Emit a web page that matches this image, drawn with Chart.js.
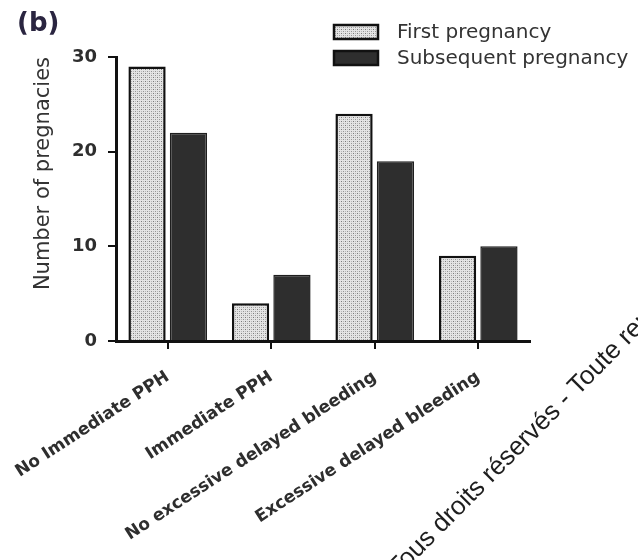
<!DOCTYPE html>
<html>
<head>
<meta charset="utf-8">
<script src="https://cdn.jsdelivr.net/npm/chart.js@4.4.1/dist/chart.umd.min.js"></script>
<style>
  html, body { margin: 0; padding: 0; background: #ffffff; }
  #wrap { width: 638px; height: 560px; }
</style>
</head>
<body>
<div id="wrap"><canvas id="c" width="638" height="560"></canvas></div>
<script>
const categories = ["No Immediate PPH", "Immediate PPH", "No excessive delayed bleeding", "Excessive delayed bleeding"];
const firstPregnancy = [29, 4, 24, 9];
const subsequentPregnancy = [22, 7, 19, 10];
const seriesNames = ["First pregnancy", "Subsequent pregnancy"];
const yTicks = [0, 10, 20, 30];
const yTitle = "Number of pregnacies";
const panelLabel = "(b)";
const watermark = "Tous droits réservés - Toute reproduction interdite";

function makeDotPattern() {
  const t = document.createElement('canvas');
  t.width = 4; t.height = 4;
  const g = t.getContext('2d');
  g.fillStyle = '#e4e4e4';
  g.fillRect(0, 0, 4, 4);
  g.fillStyle = '#7a7a7a';
  g.fillRect(1, 1, 1, 1);
  g.fillStyle = '#959595';
  g.fillRect(3, 3, 1, 1);
  g.fillStyle = '#b8b8b8';
  g.fillRect(1, 3, 1, 1);
  g.fillRect(3, 1, 1, 1);
  return document.getElementById('c').getContext('2d').createPattern(t, 'repeat');
}
const dotPattern = makeDotPattern();

const extrasPlugin = {
  id: 'extras',
  afterDraw(chart) {
    const ctx = chart.ctx;
    ctx.save();
    // panel label
    ctx.fillStyle = '#2a2540';
    ctx.font = 'bold 26px "DejaVu Sans"';
    ctx.textBaseline = 'middle';
    ctx.textAlign = 'left';
    ctx.fillText(panelLabel, 17, 24);
    // legend
    const ds = chart.data.datasets;
    const rows = [32, 58];
    ds.forEach((d, i) => {
      const y = rows[i];
      ctx.fillStyle = d.backgroundColor;
      ctx.fillRect(334, y - 7, 44, 14);
      ctx.lineWidth = 2.5;
      ctx.strokeStyle = '#111111';
      ctx.strokeRect(334, y - 7, 44, 14);
      ctx.fillStyle = '#333333';
      ctx.font = '20px "DejaVu Sans"';
      ctx.textBaseline = 'middle';
      ctx.fillText(d.label, 397, y + 1);
    });
    // watermark line
    ctx.translate(398, 578);
    ctx.rotate(-45.3 * Math.PI / 180);
    ctx.fillStyle = '#1e1e1e';
    ctx.font = '26px "Liberation Sans"';
    ctx.textBaseline = 'alphabetic';
    ctx.textAlign = 'left';
    ctx.fillText(watermark, 0, 0);
    ctx.restore();
  }
};

new Chart(document.getElementById('c'), {
  type: 'bar',
  data: {
    labels: categories,
    datasets: [
      {
        label: seriesNames[0],
        data: firstPregnancy,
        backgroundColor: dotPattern,
        borderColor: '#111111',
        borderWidth: 2.5,
        categoryPercentage: 0.8,
        barPercentage: 0.9
      },
      {
        label: seriesNames[1],
        data: subsequentPregnancy,
        backgroundColor: '#2e2e2e',
        borderColor: '#1e1e1e',
        borderWidth: 1.5,
        categoryPercentage: 0.8,
        barPercentage: 0.9
      }
    ]
  },
  options: {
    responsive: false,
    animation: false,
    devicePixelRatio: 1,
    layout: { padding: { left: 0, top: 57, right: 108, bottom: 0 } },
    plugins: {
      legend: { display: false },
      tooltip: { enabled: false },
      title: { display: false }
    },
    scales: {
      x: {
        type: 'category',
        afterFit(scale) { scale.height = 219; scale.paddingLeft = 0; scale.paddingRight = 0; },
        border: { display: true, color: '#111111', width: 3 },
        grid: { display: true, drawOnChartArea: false, offset: false, drawTicks: true, tickLength: 8, color: '#111111', lineWidth: 2 },
        ticks: {
          autoSkip: false,
          minRotation: 33,
          maxRotation: 33,
          padding: 18,
          color: '#2e2e2e',
          font: { family: '"DejaVu Sans"', size: 17, weight: 'bold' }
        }
      },
      y: {
        min: 0,
        max: 30,
        afterFit(scale) { scale.width = 116; },
        afterBuildTicks(scale) { scale.ticks = yTicks.map(v => ({ value: v })); },
        border: { display: true, color: '#111111', width: 3 },
        grid: { display: true, drawOnChartArea: false, drawTicks: true, tickLength: 8, color: '#111111', lineWidth: 2 },
        ticks: {
          padding: 11,
          color: '#2e2e2e',
          font: { family: '"DejaVu Sans"', size: 18, weight: 'bold' }
        },
        title: {
          display: true,
          text: yTitle,
          align: 'end',
          color: '#333333',
          padding: { top: 31, bottom: 0 },
          font: { family: '"DejaVu Sans"', size: 21 }
        }
      }
    }
  },
  plugins: [extrasPlugin]
});
</script>
</body>
</html>
